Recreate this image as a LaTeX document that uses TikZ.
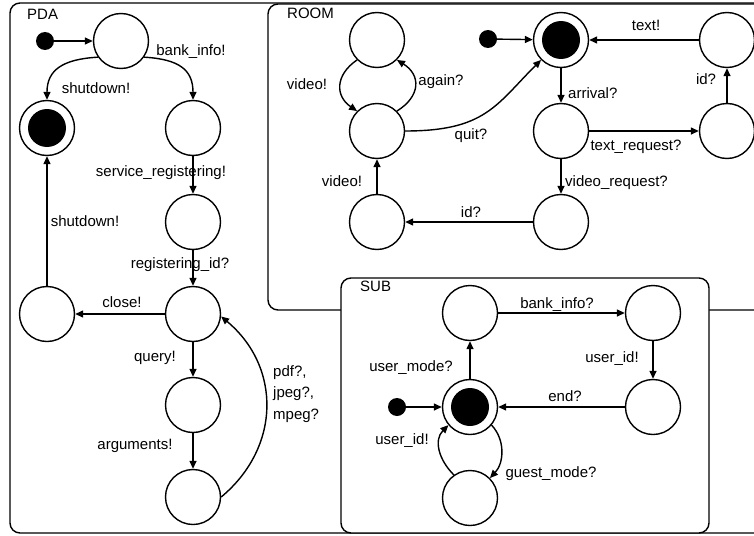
\documentclass[tikz,border=0pt]{standalone}
\usepackage{fontspec}
\setmainfont{Liberation Sans}
\usetikzlibrary{arrows.meta}
\begin{document}
\begin{tikzpicture}[x=1pt,y=-1pt,
  st/.style={circle,draw,line width=1.4pt,minimum size=55pt,inner sep=0pt,fill=white},
  fin/.style={st,path picture={\fill[black] (path picture bounding box.center) circle (19pt);}},
  ini/.style={circle,fill=black,minimum size=18pt,inner sep=0pt},
  lbl/.style={font=\fontsize{15}{18}\selectfont,inner sep=0pt,text height=11pt,text depth=3pt},
  arr/.style={line width=1.4pt,-{Triangle[length=8pt,width=7pt]}},
  frame/.style={draw,line width=1.4pt,rounded corners=10pt,fill=white}]
\useasboundingbox (0,0) rectangle (754,535);
\clip (0,0) rectangle (754,535);
% frames
\path[frame] (10,3) rectangle (800,533);
\path[frame] (268,4) rectangle (800,310);
\path[frame] (341,278) rectangle (709,533);
\node[lbl,anchor=west] (tpda) at (27,16) {PDA};
\node[lbl,anchor=west] (troom) at (287,15) {ROOM};
\node[lbl,anchor=west] (tsub) at (360,287) {SUB};
% PDA states
\node[ini] (p0) at (45,41) {};
\node[st] (p1) at (121,41) {};
\node[fin] (pf) at (47,128) {};
\node[st] (p2) at (193,128) {};
\node[st] (p3) at (193,222) {};
\node[st] (p4) at (193,314) {};
\node[st] (p5) at (47,314) {};
\node[st] (p6) at (193,405) {};
\node[st] (p7) at (193,497) {};
% ROOM states
\node[st] (r1) at (377,40) {};
\node[st] (r2) at (377,131) {};
\node[st] (r3) at (377,222) {};
\node[ini] (r0) at (488,39) {};
\node[fin] (rf) at (561,40) {};
\node[st] (r5) at (561,131) {};
\node[st] (r6) at (561,222) {};
\node[st] (r7) at (727,40) {};
\node[st] (r8) at (727,131) {};
% SUB states
\node[st] (u1) at (470,313) {};
\node[st] (u2) at (653,313) {};
\node[ini] (u0) at (397,407) {};
\node[fin] (uf) at (470,407) {};
\node[st] (u4) at (653,407) {};
\node[st] (u5) at (470,498) {};
% PDA edges
\draw[arr] (p0) -- (p1);
\draw[arr] (p1.-145) .. controls +(-35,2) and +(0,-30) .. (pf.north);
\draw[arr] (p1.-35) .. controls +(35,2) and +(0,-30) .. (p2.north);
\draw[arr] (p2) -- (p3);
\draw[arr] (p3) -- (p4);
\draw[arr] (p4) -- (p5);
\draw[arr] (p5) -- (pf);
\draw[arr] (p4) -- (p6);
\draw[arr] (p6) -- (p7);
\draw[arr] (p7.east) .. controls +(60,-50) and +(60,50) .. (p4.-5);
% ROOM edges
\draw[arr] (r0) -- (rf);
\draw[arr] (r1.-135) .. controls +(-22,15) and +(-22,-15) .. (r2.135);
\draw[arr] (r2.45) .. controls +(24,-15) and +(24,15) .. (r1.-45);
\draw[arr] (r2.east) .. controls +(80,0) and +(-45,45) .. (rf.-135);
\draw[arr] (r3) -- (r2);
\draw[arr] (r6) -- (r3);
\draw[arr] (rf) -- (r5);
\draw[arr] (r5) -- (r8);
\draw[arr] (r5) -- (r6);
\draw[arr] (r8) -- (r7);
\draw[arr] (r7) -- (rf);
% SUB edges
\draw[arr] (u0) -- (uf);
\draw[arr] (u1) -- (u2);
\draw[arr] (u2) -- (u4);
\draw[arr] (u4) -- (uf);
\draw[arr] (uf) -- (u1);
\draw[arr] (uf.-40) .. controls +(14,15) and +(14,-15) .. (u5.45);
\draw[arr] (u5.125) .. controls +(-15,-15) and +(-15,15) .. (uf.-140);
% PDA labels
\node[lbl] (l1) at (96,89) {shutdown!};
\node[lbl] (l2) at (191,52) {bank\_info!};
\node[lbl] (l3) at (161,172) {service\_registering!};
\node[lbl] (l4) at (180,264) {registering\_id?};
\node[lbl] (l5) at (122,303) {close!};
\node[lbl] (l6) at (85,222) {shutdown!};
\node[lbl] (l7) at (155,357) {query!};
\node[lbl] (l8) at (135,445) {arguments!};
\node[lbl,anchor=west,align=left,text height=,text depth=,font=\fontsize{15}{21.5}\selectfont] (l9) at (273,394) {pdf?,\\jpeg?,\\mpeg?};
% ROOM labels
\node[lbl] (m1) at (307,85) {video!};
\node[lbl] (m2) at (441,81) {again?};
\node[lbl] (m3) at (471,135) {quit?};
\node[lbl] (m4) at (342,182) {video!};
\node[lbl] (m5) at (471,213) {id?};
\node[lbl,anchor=west] (m6) at (568,94) {arrival?};
\node[lbl] (m7) at (636,146) {text\_request?};
\node[lbl,anchor=west] (m8) at (565,182) {video\_request?};
\node[lbl] (m9) at (706,80) {id?};
\node[lbl] (m10) at (646,27) {text!};
% SUB labels
\node[lbl] (s1) at (557,304) {bank\_info?};
\node[lbl] (s2) at (612,358) {user\_id!};
\node[lbl] (s3) at (565,397) {end?};
\node[lbl] (s4) at (411,367) {user\_mode?};
\node[lbl] (s5) at (551,473) {guest\_mode?};
\node[lbl] (s6) at (402,440) {user\_id!};
\end{tikzpicture}
\end{document}
